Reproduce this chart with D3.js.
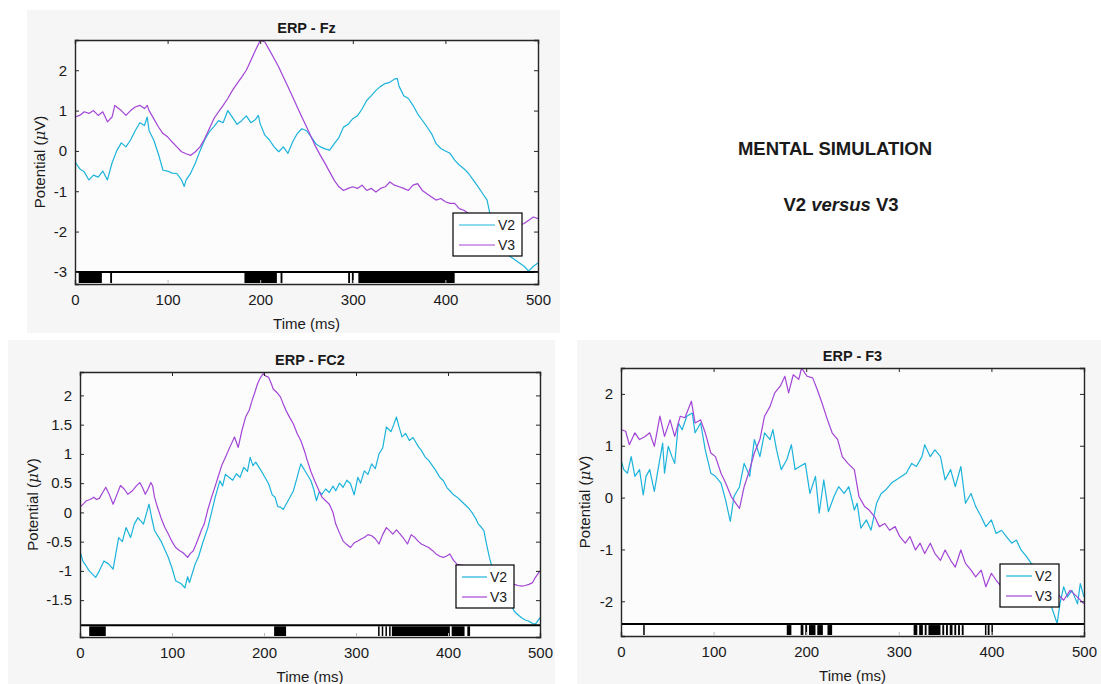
<!DOCTYPE html>
<html>
<head>
<meta charset="utf-8">
<script src="https://cdn.jsdelivr.net/npm/d3@7"></script>
<style>
  body { margin: 0; background: #ffffff; }
  text { font-family: "Liberation Sans", Arial, sans-serif; fill: #1a1a1a; }
</style>
</head>
<body>
<script>
// Ось времени и метки
const timeTicks = [0, 100, 200, 300, 400, 500];
const seriesNames = ["V2", "V3"];
const seriesColors = ["#1cb3db", "#a345d6"];

// ERP - Fz  ([ms, мкВ])
const fzTicks = [-3, -2, -1, 0, 1, 2];
const fzV2 = [[0,-0.27],[5,-0.44],[10,-0.52],[15,-0.72],[20,-0.6],[25,-0.65],[30,-0.5],[35,-0.72],[40,-0.3],[45,0],[50,0.2],[55,0.1],[60,0.27],[65,0.5],[70,0.7],[75,0.63],[78,0.84],[80,0.5],[85,0.27],[90,-0.07],[95,-0.48],[100,-0.5],[105,-0.55],[110,-0.56],[115,-0.72],[118,-0.88],[120,-0.72],[125,-0.55],[130,-0.3],[135,0],[140,0.27],[145,0.47],[150,0.6],[155,0.75],[160,0.7],[165,1.0],[170,0.83],[175,0.66],[180,0.75],[185,0.87],[190,0.7],[195,0.78],[198,0.88],[200,0.67],[205,0.39],[210,0.27],[215,0.1],[220,-0.02],[225,0.1],[230,-0.06],[235,0.22],[240,0.43],[245,0.55],[250,0.5],[255,0.35],[260,0.18],[265,0.1],[270,0.05],[275,0.02],[280,0.18],[285,0.33],[290,0.59],[295,0.66],[300,0.8],[305,0.87],[310,1.04],[315,1.25],[320,1.37],[325,1.5],[330,1.6],[335,1.67],[340,1.7],[345,1.78],[348,1.8],[350,1.6],[355,1.37],[360,1.3],[365,1.13],[370,0.92],[375,0.76],[380,0.6],[385,0.43],[390,0.18],[395,0.06],[400,0],[405,-0.06],[410,-0.23],[415,-0.35],[420,-0.44],[425,-0.56],[430,-0.72],[435,-0.88],[440,-1.05],[445,-1.22],[448,-1.55],[450,-1.88],[455,-2.2],[460,-2.37],[465,-2.53],[470,-2.62],[475,-2.7],[480,-2.78],[485,-2.86],[490,-2.98],[495,-2.86],[500,-2.78]];
const fzV3 = [[0,0.84],[5,0.88],[10,0.97],[15,0.93],[20,1.0],[25,0.88],[30,0.97],[35,0.72],[40,0.84],[43,1.13],[45,1.09],[50,1.0],[55,0.88],[60,1.0],[65,1.09],[70,1.13],[75,1.05],[78,1.13],[80,1.0],[85,0.8],[90,0.6],[95,0.43],[100,0.35],[105,0.22],[110,0.1],[115,-0.02],[120,-0.07],[125,-0.11],[130,-0.02],[135,0.1],[140,0.3],[145,0.55],[150,0.8],[155,0.97],[160,1.13],[165,1.3],[170,1.5],[175,1.67],[180,1.83],[185,2.0],[190,2.25],[195,2.5],[200,2.74],[205,2.7],[210,2.5],[215,2.29],[220,2.08],[225,1.83],[230,1.59],[235,1.34],[240,1.09],[245,0.84],[250,0.6],[255,0.35],[260,0.1],[265,-0.11],[270,-0.31],[275,-0.52],[280,-0.73],[285,-0.89],[290,-0.98],[295,-0.93],[300,-0.89],[305,-0.93],[310,-0.85],[315,-0.98],[320,-0.93],[325,-1.02],[330,-0.93],[335,-0.89],[340,-0.77],[345,-0.85],[350,-0.89],[355,-0.93],[360,-0.98],[365,-0.85],[370,-0.81],[375,-0.98],[380,-1.06],[385,-1.14],[390,-1.22],[395,-1.18],[400,-1.26],[405,-1.3],[410,-1.3],[415,-1.43],[420,-1.47],[425,-1.55],[430,-1.64],[435,-1.64],[440,-1.72],[445,-1.68],[450,-1.76],[455,-1.72],[460,-1.8],[465,-1.76],[470,-1.84],[475,-1.8],[480,-1.84],[485,-1.8],[490,-1.72],[495,-1.64],[500,-1.68]];
const fzSig = [[4,29],[38,40],[183,218],[222,224],[295,297],[299,301],[306,410]];

// ERP - FC2
const fc2Ticks = [-1.5, -1, -0.5, 0, 0.5, 1, 1.5, 2];
const fc2V2 = [[0,-0.66],[3,-0.83],[6,-0.9],[10,-1.0],[17,-1.11],[20,-1.03],[26,-0.83],[31,-0.88],[36,-0.97],[42,-0.43],[46,-0.5],[50,-0.26],[55,-0.43],[59,-0.2],[63,-0.09],[69,-0.2],[75,0.14],[78,-0.1],[81,-0.31],[88,-0.49],[96,-0.77],[100,-0.95],[104,-1.17],[110,-1.22],[114,-1.29],[117,-1.1],[119,-1.2],[125,-0.89],[129,-0.75],[133,-0.54],[139,-0.26],[143,0.0],[147,0.26],[152,0.54],[155,0.45],[158,0.65],[162,0.6],[166,0.55],[170,0.66],[174,0.6],[178,0.77],[182,0.7],[185,0.94],[188,0.8],[191,0.86],[197,0.71],[201,0.6],[205,0.49],[209,0.3],[212,0.26],[215,0.1],[218,0.09],[221,0.05],[224,0.14],[228,0.25],[232,0.37],[236,0.6],[240,0.83],[245,0.7],[251,0.54],[254,0.4],[257,0.2],[260,0.35],[263,0.31],[267,0.4],[271,0.34],[275,0.45],[278,0.37],[282,0.5],[286,0.43],[290,0.55],[294,0.49],[298,0.3],[302,0.6],[305,0.5],[309,0.71],[313,0.65],[317,0.83],[321,0.75],[325,1.0],[329,1.1],[333,1.46],[338,1.38],[341,1.5],[344,1.63],[347,1.45],[350,1.29],[354,1.35],[358,1.23],[362,1.28],[365,1.2],[368,1.12],[371,1.06],[375,0.95],[379,0.89],[383,0.8],[387,0.71],[391,0.6],[395,0.54],[399,0.42],[402,0.37],[406,0.3],[410,0.26],[414,0.2],[418,0.14],[422,0.08],[426,0.0],[430,-0.1],[433,-0.2],[436,-0.25],[439,-0.31],[442,-0.55],[445,-0.77],[449,-1.0],[453,-1.2],[457,-1.34],[461,-1.45],[465,-1.51],[469,-1.6],[472,-1.69],[476,-1.75],[480,-1.8],[484,-1.84],[488,-1.86],[492,-1.9],[495,-1.91],[500,-1.8]];
const fc2V3 = [[0,0.09],[4,0.15],[7,0.2],[11,0.22],[15,0.26],[18,0.22],[21,0.24],[25,0.35],[28,0.43],[32,0.3],[36,0.14],[40,0.3],[44,0.46],[48,0.4],[52,0.31],[57,0.37],[61,0.45],[65,0.51],[68,0.42],[71,0.31],[74,0.4],[77,0.51],[79,0.45],[81,0.26],[84,0.1],[88,-0.09],[92,-0.25],[96,-0.37],[100,-0.5],[104,-0.6],[108,-0.65],[112,-0.69],[117,-0.77],[120,-0.7],[123,-0.66],[126,-0.55],[129,-0.43],[132,-0.3],[135,-0.2],[139,0.05],[143,0.26],[147,0.45],[150,0.6],[154,0.8],[158,0.94],[163,1.12],[168,1.29],[172,1.11],[176,1.4],[180,1.63],[184,1.75],[187,1.91],[190,2.05],[193,2.2],[196,2.3],[199,2.37],[202,2.33],[205,2.31],[208,2.2],[210,2.11],[214,2.05],[218,1.97],[221,1.85],[224,1.74],[228,1.62],[232,1.51],[236,1.35],[240,1.23],[244,1.05],[247,0.89],[251,0.7],[255,0.54],[259,0.4],[263,0.26],[267,0.2],[271,0.14],[275,0.0],[278,-0.2],[282,-0.35],[286,-0.49],[290,-0.55],[294,-0.6],[298,-0.52],[302,-0.49],[306,-0.45],[309,-0.43],[313,-0.38],[317,-0.4],[321,-0.45],[325,-0.54],[329,-0.38],[333,-0.26],[337,-0.32],[340,-0.37],[344,-0.3],[348,-0.37],[352,-0.45],[356,-0.54],[360,-0.38],[364,-0.43],[368,-0.5],[371,-0.54],[375,-0.57],[379,-0.6],[383,-0.65],[387,-0.71],[391,-0.75],[395,-0.77],[399,-0.74],[402,-0.71],[406,-0.82],[410,-0.89],[414,-0.9],[418,-0.91],[422,-0.96],[426,-1.0],[430,-1.02],[433,-1.03],[437,-1.05],[441,-1.06],[445,-1.08],[449,-1.09],[453,-1.1],[457,-1.11],[461,-1.14],[465,-1.17],[469,-1.2],[472,-1.23],[476,-1.25],[480,-1.26],[484,-1.25],[488,-1.23],[492,-1.2],[495,-1.11],[500,-1.0]];
const fc2Sig = [[10,28],[211,224],[324,325],[328,329],[332,333],[336,337],[339,402],[404,418],[421,424]];

// ERP - F3
const f3Ticks = [-2, -1, 0, 1, 2];
const f3V2 = [[0,0.73],[3,0.54],[7,0.47],[11,0.79],[15,0.41],[20,0.54],[24,0.05],[27,0.41],[31,0.54],[36,0.12],[40,0.54],[45,1.05],[47,0.47],[51,0.99],[55,0.79],[58,0.66],[62,1.44],[66,1.31],[71,1.57],[77,1.63],[80,1.25],[86,1.44],[91,0.92],[97,0.47],[102,0.41],[108,0.28],[113,-0.05],[118,-0.46],[122,0.02],[128,0.21],[133,0.66],[139,0.41],[144,1.12],[150,0.79],[155,1.25],[161,1.12],[164,1.31],[168,0.92],[173,0.54],[179,0.73],[184,1.02],[188,0.54],[193,0.6],[199,0.66],[204,0.08],[210,0.41],[214,-0.3],[219,0.34],[224,-0.27],[230,0.02],[235,0.21],[241,0.08],[246,0.21],[252,-0.24],[255,-0.11],[259,-0.59],[265,-0.43],[270,-0.63],[276,-0.11],[281,0.08],[286,0.15],[292,0.28],[297,0.34],[303,0.41],[308,0.47],[314,0.66],[319,0.6],[325,0.79],[328,1.02],[334,0.79],[339,0.92],[345,0.79],[350,0.34],[356,0.54],[361,0.21],[367,0.6],[372,-0.11],[378,0.08],[383,-0.17],[389,-0.37],[394,-0.56],[400,-0.43],[405,-0.69],[411,-0.63],[416,-0.75],[422,-0.88],[427,-0.82],[432,-1.01],[438,-1.14],[443,-1.27],[449,-1.34],[454,-1.59],[460,-1.85],[465,-2.11],[471,-2.43],[474,-2.05],[478,-1.72],[482,-1.92],[487,-1.79],[493,-2.05],[496,-1.66],[500,-1.92]];
const f3V3 = [[0,1.31],[5,1.28],[9,1.02],[15,1.25],[20,1.12],[26,1.18],[31,1.25],[36,0.99],[42,1.57],[47,1.18],[53,1.5],[58,1.18],[64,1.57],[69,1.54],[76,1.86],[80,1.44],[86,1.5],[91,1.25],[97,0.86],[102,0.79],[108,0.47],[113,0.28],[119,0.02],[124,-0.11],[128,-0.21],[133,0.21],[139,0.54],[144,0.86],[150,1.12],[155,1.57],[161,1.76],[166,2.02],[172,2.15],[177,2.34],[181,2.02],[186,2.37],[192,2.28],[195,2.5],[201,2.34],[207,2.31],[212,2.08],[217,1.83],[223,1.5],[228,1.25],[234,1.12],[239,0.79],[245,0.66],[252,0.54],[257,0.02],[263,-0.17],[268,-0.24],[274,-0.37],[279,-0.56],[285,-0.5],[290,-0.63],[296,-0.56],[301,-0.75],[307,-0.88],[312,-0.75],[318,-1.01],[323,-0.88],[328,-1.08],[334,-0.88],[339,-1.08],[345,-1.21],[350,-1.01],[356,-1.21],[361,-1.34],[367,-1.01],[372,-1.27],[378,-1.4],[383,-1.53],[389,-1.4],[394,-1.72],[400,-1.46],[405,-1.59],[411,-1.72],[420,-1.72],[430,-1.8],[438,-1.85],[447,-1.88],[456,-1.92],[464,-1.88],[471,-1.85],[478,-1.98],[485,-1.79],[493,-1.92],[500,-2.05]];
const f3Sig = [[24,25],[179,184],[194,197],[199,201],[203,210],[212,218],[223,228],[316,320],[322,326],[328,330],[332,345],[347,349],[351,353],[355,358],[360,362],[364,366],[368,370],[393,394],[396,398],[400,401]];

// Создаем поле
const svg = d3.select("body")
    .append("svg")
    .attr("width", 1101)
    .attr("height", 684);

function drawPanel(p) {
    // фон панели
    svg.append("rect")
        .attr("x", p.bg[0]).attr("y", p.bg[1])
        .attr("width", p.bg[2]).attr("height", p.bg[3])
        .attr("fill", "#f6f6f6");

    const x = d3.scaleLinear().domain([0, 500]).range([p.left, p.right]);
    const y = d3.scaleLinear().domain(p.yDomain).range([p.bottom, p.top]);

    const g = svg.append("g");

    g.append("rect")
        .attr("x", p.left).attr("y", p.top)
        .attr("width", p.right - p.left).attr("height", p.bottom - p.top)
        .attr("fill", "#fcfcfc");

    const clipId = "clip_" + p.id;
    g.append("clipPath").attr("id", clipId)
        .append("rect")
        .attr("x", p.left).attr("y", p.top)
        .attr("width", p.right - p.left).attr("height", y(p.stripTop) - p.top);

    const line = d3.line()
        .x(function (d) { return x(d[0]); })
        .y(function (d) { return y(d[1]); });

    g.selectAll("path.erp")
        .data(p.series)
        .enter()
        .append("path")
        .attr("class", "erp")
        .attr("clip-path", "url(#" + clipId + ")")
        .attr("d", function (d) { return line(d); })
        .attr("fill", "none")
        .attr("stroke", function (d, i) { return seriesColors[i]; })
        .attr("stroke-width", 1.2)
        .attr("stroke-linejoin", "round");

    // полоса значимости
    g.append("rect")
        .attr("x", p.left).attr("y", y(p.stripTop))
        .attr("width", p.right - p.left).attr("height", y(p.yDomain[0]) - y(p.stripTop))
        .attr("fill", "#ffffff");

    g.selectAll("rect.sig")
        .data(p.sig)
        .enter()
        .append("rect")
        .attr("class", "sig")
        .attr("x", function (d) { return x(d[0]); })
        .attr("y", y(p.stripTop) + 1)
        .attr("width", function (d) { return Math.max(1.5, x(d[1]) - x(d[0])); })
        .attr("height", y(p.yDomain[0]) - y(p.stripTop) - 2)
        .attr("fill", "#000000");

    g.append("line")
        .attr("x1", p.left).attr("x2", p.right)
        .attr("y1", y(p.stripTop)).attr("y2", y(p.stripTop))
        .attr("stroke", "#000000")
        .attr("stroke-width", 2);

    // оси
    const fmt = function (d) { return String(d); };
    const axisBottom = g.append("g")
        .attr("transform", "translate(0," + p.bottom + ")")
        .call(d3.axisBottom(x).tickValues(timeTicks).tickFormat(fmt).tickSize(-4).tickPadding(10));
    const axisTop = g.append("g")
        .attr("transform", "translate(0," + p.top + ")")
        .call(d3.axisTop(x).tickValues(timeTicks).tickFormat("").tickSize(-4));
    const axisLeft = g.append("g")
        .attr("transform", "translate(" + p.left + ",0)")
        .call(d3.axisLeft(y).tickValues(p.ticks).tickFormat(fmt).tickSize(-4).tickPadding(8));
    const axisRight = g.append("g")
        .attr("transform", "translate(" + p.right + ",0)")
        .call(d3.axisRight(y).tickValues(p.ticks).tickFormat("").tickSize(-4));

    [axisBottom, axisTop, axisLeft, axisRight].forEach(function (a) {
        a.select(".domain").attr("stroke", "#262626").attr("stroke-width", 1.4);
        a.selectAll(".tick line").attr("stroke", "#262626");
        a.selectAll("text")
            .attr("font-family", "Liberation Sans, Arial, sans-serif")
            .attr("font-size", "15px")
            .attr("fill", "#1a1a1a");
    });
    axisBottom.selectAll(".tick line").attr("stroke", "#bbbbbb");

    // подписи
    g.append("text")
        .attr("x", (p.left + p.right) / 2)
        .attr("y", p.top - 7)
        .attr("text-anchor", "middle")
        .attr("font-size", "14.5px")
        .attr("font-weight", "bold")
        .text(p.title);

    g.append("text")
        .attr("x", (p.left + p.right) / 2)
        .attr("y", p.bottom + 45)
        .attr("text-anchor", "middle")
        .attr("font-size", "15px")
        .text("Time (ms)");

    const yl = g.append("text")
        .attr("transform", "translate(" + p.yLabelX + "," + ((p.top + p.bottom) / 2) + ") rotate(-90)")
        .attr("text-anchor", "middle")
        .attr("font-size", "15px");
    yl.append("tspan").text("Potential (");
    yl.append("tspan").attr("font-family", "DejaVu Serif, serif").attr("font-style", "italic").text("\u03bc");
    yl.append("tspan").text("V)");

    // легенда
    const lg = g.append("g").attr("transform", "translate(" + p.legend[0] + "," + p.legend[1] + ")");
    lg.append("rect")
        .attr("width", p.legend[2]).attr("height", 43)
        .attr("fill", "#ffffff")
        .attr("stroke", "#000000")
        .attr("stroke-width", 1.2);
    const items = lg.selectAll("g.item")
        .data(seriesNames)
        .enter()
        .append("g")
        .attr("transform", function (d, i) { return "translate(0," + (12 + i * 20) + ")"; });
    items.append("line")
        .attr("x1", 6).attr("x2", p.legend[2] - 27)
        .attr("stroke", function (d, i) { return seriesColors[i]; })
        .attr("stroke-width", 1.2);
    items.append("text")
        .attr("x", p.legend[2] - 24)
        .attr("y", 5)
        .attr("font-size", "14px")
        .text(function (d) { return d; });
}

drawPanel({
    id: "fz", title: "ERP - Fz", bg: [27, 10, 533, 323],
    left: 75, right: 538, top: 40, bottom: 284,
    yDomain: [-3.3, 2.75], stripTop: -3.0, ticks: fzTicks, yLabelX: 45,
    series: [fzV2, fzV3], sig: fzSig, legend: [453, 213, 69]
});

drawPanel({
    id: "fc2", title: "ERP - FC2", bg: [8, 340, 547, 344],
    left: 80, right: 540, top: 372, bottom: 637,
    yDomain: [-2.13, 2.4], stripTop: -1.93, ticks: fc2Ticks, yLabelX: 38,
    series: [fc2V2, fc2V3], sig: fc2Sig, legend: [456, 565, 58]
});

drawPanel({
    id: "f3", title: "ERP - F3", bg: [577, 340, 524, 344],
    left: 621, right: 1084, top: 368, bottom: 636,
    yDomain: [-2.67, 2.5], stripTop: -2.44, ticks: f3Ticks, yLabelX: 590,
    series: [f3V2, f3V3], sig: f3Sig, legend: [1000, 564, 59]
});

// текст справа
svg.append("text")
    .attr("x", 835).attr("y", 155)
    .attr("text-anchor", "middle")
    .attr("font-size", "18.5px")
    .attr("font-weight", "bold")
    .text("MENTAL SIMULATION");

const vs = svg.append("text")
    .attr("x", 841).attr("y", 211)
    .attr("text-anchor", "middle")
    .attr("font-size", "18.5px")
    .attr("font-weight", "bold");
vs.append("tspan").text("V2 ");
vs.append("tspan").attr("font-style", "italic").text("versus");
vs.append("tspan").text(" V3");
</script>
</body>
</html>
